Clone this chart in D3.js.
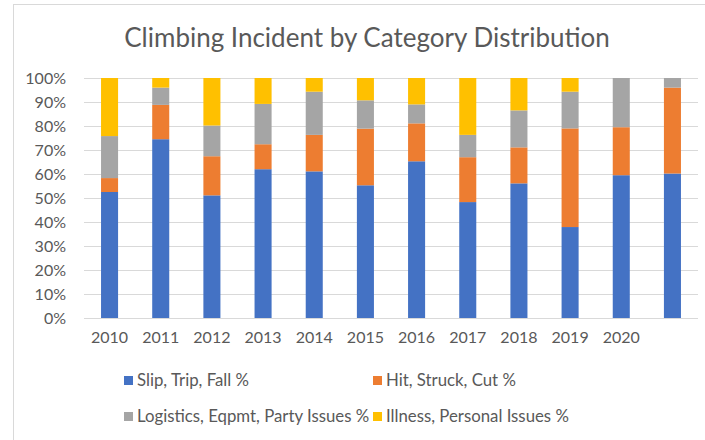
<!DOCTYPE html>
<html>
<head>
<meta charset="utf-8">
<script src="https://cdn.jsdelivr.net/npm/d3@7"></script>
<style>
  body { margin: 0; background: #fff; }
  text { font-family: Lato, 'Open Sans', sans-serif; fill: #595959; }
</style>
</head>
<body>
<div class="container"></div>
<script>
let years = ['2010', '2011', '2012', '2013', '2014', '2015', '2016', '2017', '2018', '2019', '2020', ''];
let seriesNames = ['Slip, Trip, Fall %', 'Hit, Struck, Cut %', 'Logistics, Eqpmt, Party Issues %', 'Illness, Personal Issues %'];
let slipTripFall = [52.5, 74.5, 51.1, 62.0, 61.1, 55.3, 65.3, 48.3, 56.1, 37.9, 59.5, 60.2];
let hitStruckCut = [5.8, 14.3, 16.3, 10.4, 15.2, 23.6, 15.8, 18.7, 15.0, 41.1, 20.0, 35.8];
let logistics = [17.5, 7.2, 12.8, 16.8, 18.0, 11.8, 7.9, 9.3, 15.4, 15.3, 20.5, 4.0];
let illness = [24.2, 4.0, 19.8, 10.8, 5.7, 9.3, 11.0, 23.7, 13.5, 5.7, 0, 0];
let yTicks = [0, 0.1, 0.2, 0.3, 0.4, 0.5, 0.6, 0.7, 0.8, 0.9, 1];
let colors = ['#4472C4', '#ED7D31', '#A5A5A5', '#FFC000'];

let margin = { top: 78, right: 7, bottom: 122, left: 84 };
let width = 705 - margin.left - margin.right;
let height = 440 - margin.top - margin.bottom;

let svg = d3
  .select('.container')
  .append('svg')
  .attr('width', 705)
  .attr('height', 440);

// chart frame
svg
  .append('rect')
  .attr('x', 13.5)
  .attr('y', 4.5)
  .attr('width', 720)
  .attr('height', 460)
  .attr('fill', 'none')
  .attr('stroke', '#d9d9d9');

svg
  .append('text')
  .attr('x', 367)
  .attr('y', 47)
  .attr('text-anchor', 'middle')
  .style('font-size', '26px')
  .text('Climbing Incident by Category Distribution');

let g = svg
  .append('g')
  .attr('transform', 'translate(' + margin.left + ',' + margin.top + ')');

let data = years.map((year, i) => {
  let total = slipTripFall[i] + hitStruckCut[i] + logistics[i] + illness[i];
  return {
    year: year,
    s0: slipTripFall[i] / total,
    s1: hitStruckCut[i] / total,
    s2: logistics[i] / total,
    s3: illness[i] / total
  };
});

let xScale = d3
  .scaleBand()
  .domain(years)
  .range([0, width])
  .paddingInner(0.667)
  .paddingOuter(0.333);

let yScale = d3.scaleLinear().domain([0, 1]).range([height, 0]);

// gridlines
g.append('g')
  .selectAll('line')
  .data(yTicks)
  .enter()
  .append('line')
  .attr('x1', 0)
  .attr('x2', width)
  .attr('y1', (d) => Math.round(yScale(d)) + 0.5)
  .attr('y2', (d) => Math.round(yScale(d)) + 0.5)
  .attr('stroke', '#d9d9d9')
  .attr('stroke-width', 1);

let yAxis = d3.axisLeft(yScale).tickValues(yTicks).tickFormat(d3.format('.0%')).tickSize(0).tickPadding(18);
let yAxisG = g.append('g').attr('id', 'y-axis').call(yAxis);
yAxisG.select('.domain').remove();
yAxisG.selectAll('text').style('font-size', '16px').style('fill', '#595959').style('font-family', 'Lato, sans-serif');

let xAxis = d3.axisBottom(xScale).tickSize(0).tickPadding(14);
let xAxisG = g
  .append('g')
  .attr('id', 'x-axis')
  .attr('transform', 'translate(0,' + height + ')')
  .call(xAxis);
xAxisG.select('.domain').remove();
xAxisG.selectAll('text').style('font-size', '16px').style('fill', '#595959').style('font-family', 'Lato, sans-serif');

let stack = d3.stack().keys(['s0', 's1', 's2', 's3']);
let layers = stack(data);

g.append('g')
  .selectAll('g')
  .data(layers)
  .enter()
  .append('g')
  .attr('fill', (d, i) => colors[i])
  .selectAll('rect')
  .data((d) => d)
  .enter()
  .append('rect')
  .attr('x', (d) => xScale(d.data.year))
  .attr('y', (d) => yScale(d[1]))
  .attr('width', xScale.bandwidth())
  .attr('height', (d) => yScale(d[0]) - yScale(d[1]));

// legend
let legendPos = [
  { x: 124, y: 386 },
  { x: 373, y: 386 },
  { x: 124, y: 422 },
  { x: 373, y: 422 }
];

let legend = svg
  .append('g')
  .selectAll('g')
  .data(seriesNames)
  .enter()
  .append('g')
  .attr('transform', (d, i) => 'translate(' + legendPos[i].x + ',' + legendPos[i].y + ')');

legend
  .append('rect')
  .attr('x', 0)
  .attr('y', -10)
  .attr('width', 9)
  .attr('height', 9)
  .attr('fill', (d, i) => colors[i]);

legend
  .append('text')
  .attr('x', 13)
  .attr('y', 0)
  .style('font-size', '16.8px')
  .text((d) => d);
</script>
</body>
</html>
